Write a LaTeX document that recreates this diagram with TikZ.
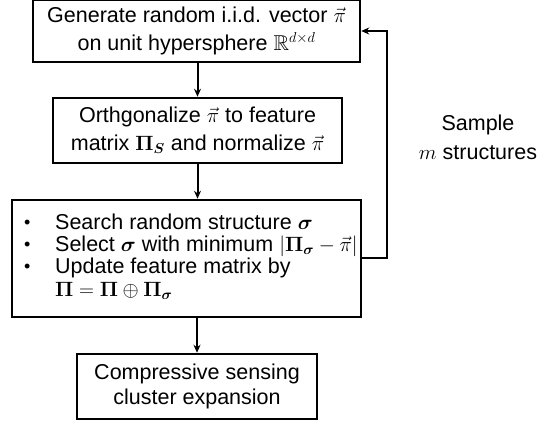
\documentclass[tikz,border=0pt]{standalone}
\usepackage{amsmath,amssymb,bm}
\usepackage[no-math]{fontspec}
\setmainfont{Liberation Sans}
\usetikzlibrary{arrows.meta}
\newcommand{\mybul}{\makebox[32pt][l]{\hspace*{1pt}\raisebox{1.2pt}{\fontsize{18}{18}\selectfont•}}}
\begin{document}
\begin{tikzpicture}[x=1pt,y=1pt,
  box/.style={draw, line width=2.5pt, inner sep=0pt, align=center},
  conn/.style={line width=2pt, -{Stealth[length=8pt,width=7pt]}},
  every node/.style={font=\fontsize{21.5}{27.5}\selectfont}]
\useasboundingbox (0,0) rectangle (554,425);
\node[box, minimum width=327pt, minimum height=62pt] (b1) at (196.5,394)
  {Generate random i.i.d. vector $\vec{\pi}$\\on unit hypersphere $\mathbb{R}^{d\times d}$};
\node[box, minimum width=289pt, minimum height=65pt] (b2) at (197.5,294.5)
  {Orthgonalize $\vec{\pi}$ to feature\\matrix $\mathbf{\Pi}_{\boldsymbol{S}}$ and normalize $\vec{\pi}$};
\node[box, minimum width=349pt, minimum height=117pt] (b3) at (186.5,166.5) {};
\node[inner sep=0pt, anchor=north west, align=left,
  font=\fontsize{21.5}{22}\selectfont] (b3t) at (23,211.5)
  {\mybul Search random structure $\boldsymbol{\sigma}$\\
   \mybul Select $\boldsymbol{\sigma}$ with minimum $|\mathbf{\Pi}_{\boldsymbol{\sigma}}-\vec{\pi}|$\\
   \mybul Update feature matrix by\\[1.5pt]
   \hspace*{32pt}$\mathbf{\Pi}=\mathbf{\Pi}\oplus\mathbf{\Pi}_{\boldsymbol{\sigma}}$};
\node[box, minimum width=240pt, minimum height=65pt, font=\fontsize{21.5}{25}\selectfont] (b4) at (197,38.5)
  {Compressive sensing\\cluster expansion};
\node[align=center, font=\fontsize{21.5}{29}\selectfont] (lbl) at (478,288) {Sample\\$m$ structures};
\coordinate (loop) at (387,0);
\draw[conn] (b2.north |- b1.south) -- (b2.north);
\draw[conn] (b2.south) -- (b2.south |- b3.north);
\draw[conn] (b4.north |- b3.south) -- (b4.north);
\draw[conn] (b3.east) -- (b3.east -| loop) |- (b1.east);
\end{tikzpicture}
\end{document}
